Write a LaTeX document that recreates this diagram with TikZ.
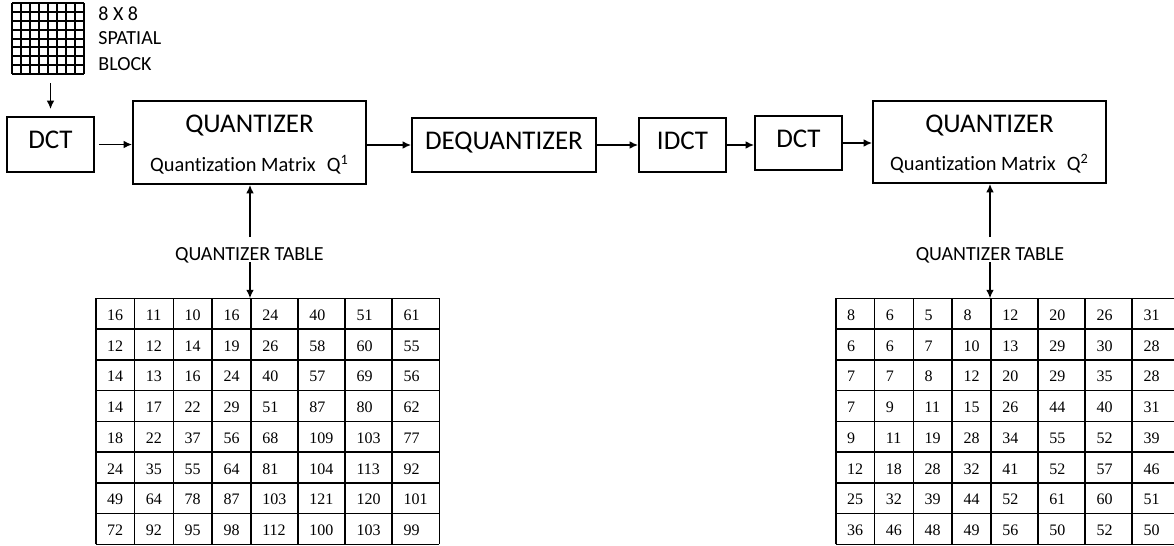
\documentclass[tikz,border=0pt]{standalone}
\usepackage{fontspec}
\setmainfont{Carlito}[Ligatures=NoCommon]
\newfontfamily\numfont{Liberation Serif}
\usetikzlibrary{arrows.meta}
\newcommand\qtabdraw[3]{%
  \foreach \k in {0,...,8} \draw[tline] (#1,298.3+30.75*\k) -- (#1+343.6,298.3+30.75*\k);
  \foreach \c in {0,...,8} {%
    \pgfmathsetmacro\xx{\c<5 ? #1+38.8*\c : #1+155.2+47.1*(\c-4)}
    \draw[tline] (\xx,298.3) -- (\xx,544.3);}
  \foreach \row [count=\r] in {#3} {%
    \foreach \v [count=\c] in \row {%
      \pgfmathsetmacro\xx{\c<5 ? #1+38.8*(\c-1) : #1+155.2+47.1*(\c-5)}
      \node[num] (#2-\r-\c) at (\xx+11,298.3+30.75*\r-8.75) {\v};}}
}
\begin{document}
\begin{tikzpicture}[x=0.5pt,y=-0.5pt,
  box/.style={draw, line width=0.9pt, inner sep=0},
  big/.style={font=\fontsize{13.5}{16}\selectfont},
  lbl/.style={font=\fontsize{10}{12}\selectfont, inner sep=0},
  sub/.style={font=\fontsize{10.2}{12}\selectfont, inner sep=0, anchor=base},
  num/.style={font=\numfont\fontsize{8}{9}\selectfont, inner sep=0, anchor=base west},
  tline/.style={line width=0.8pt},
  gline/.style={line width=1pt},
  arr/.style={-{Latex[length=4.2pt,width=3.8pt]}, line width=0.75pt}]
\useasboundingbox (0,0) rectangle (1174,546);
\clip (0,0) rectangle (1174,546);

% spatial block
\node[inner sep=0, minimum width=36pt, minimum height=35.5pt] (blk) at (48,38.5) {};
\foreach \i in {0,...,8} {
  \draw[gline] (12+9*\i,3) -- (12+9*\i,74);
  \draw[gline] (12,3+8.875*\i) -- (84,3+8.875*\i);
}
\node[lbl, anchor=base west] (t8) at (98,20) {8 X 8};
\node[lbl, anchor=base west] (tsp) at (98,45) {SPATIAL};
\node[lbl, anchor=base west] (tbk) at (98,70.5) {BLOCK};

% boxes
\node[box, big, minimum width=43.5pt, minimum height=27.5pt, text height=9pt, text depth=5pt] (dct1) at (50.5,144.5) {DCT};
\node[box, minimum width=116.5pt, minimum height=41.5pt] (q1) at (249.5,142.5) {};
\node[big, inner sep=0, anchor=base] (q1t) at (249.5,132.7) {QUANTIZER};
\node[sub] (q1s) at (249.5,171.7) {Quantization Matrix\hspace{0.55em}Q\textsuperscript{1}};
\node[box, big, minimum width=92pt, minimum height=27pt, text height=9pt, text depth=5pt] (deq) at (504,145) {DEQUANTIZER};
\node[box, big, minimum width=43.5pt, minimum height=27pt, text height=9pt, text depth=5pt] (idct) at (682.5,145) {IDCT};
\node[box, big, minimum width=43.5pt, minimum height=27pt, text height=9pt, text depth=5pt] (dct2) at (798.5,143) {DCT};
\node[box, minimum width=116.5pt, minimum height=41pt] (q2) at (989.5,142) {};
\node[big, inner sep=0, anchor=base] (q2t) at (989.5,132.7) {QUANTIZER};
\node[sub] (q2s) at (989.5,170.5) {Quantization Matrix\hspace{0.55em}Q\textsuperscript{2}};

% connectors
\draw[arr, shorten <=4.5pt, shorten >=3.5pt] (blk.south -| dct1) -- (dct1.north);
\draw[arr, shorten <=2pt] (dct1.east) -- (dct1.east -| q1.west);
\draw[arr] (q1.east |- deq.west) -- (deq.west);
\draw[arr] (deq.east) -- (idct.west);
\draw[arr] (idct.east) -- (idct.east -| dct2.west);
\draw[arr] (dct2.east) -- (dct2.east -| q2.west);

% quantizer tables labels and arrows
\node[lbl, anchor=base] (qt1) at (249.3,260) {QUANTIZER TABLE};
\coordinate (qa1) at (250,237);
\coordinate (qb1) at (250,262);
\coordinate (tt1) at (250,298.3);
\draw[arr] (qa1) -- (qa1 |- q1.south);
\draw[arr] (qb1) -- (tt1);

\node[lbl, anchor=base] (qt2) at (990,260) {QUANTIZER TABLE};
\coordinate (qa2) at (990,237);
\coordinate (qb2) at (990,262);
\coordinate (tt2) at (990,298.3);
\draw[arr] (qa2) -- (qa2 |- q2.south);
\draw[arr] (qb2) -- (tt2);

% tables
\qtabdraw{95.7}{a}{{16,11,10,16,24,40,51,61},{12,12,14,19,26,58,60,55},{14,13,16,24,40,57,69,56},{14,17,22,29,51,87,80,62},{18,22,37,56,68,109,103,77},{24,35,55,64,81,104,113,92},{49,64,78,87,103,121,120,101},{72,92,95,98,112,100,103,99}}
\qtabdraw{835.7}{b}{{8,6,5,8,12,20,26,31},{6,6,7,10,13,29,30,28},{7,7,8,12,20,29,35,28},{7,9,11,15,26,44,40,31},{9,11,19,28,34,55,52,39},{12,18,28,32,41,52,57,46},{25,32,39,44,52,61,60,51},{36,46,48,49,56,50,52,50}}
\end{tikzpicture}
\end{document}
